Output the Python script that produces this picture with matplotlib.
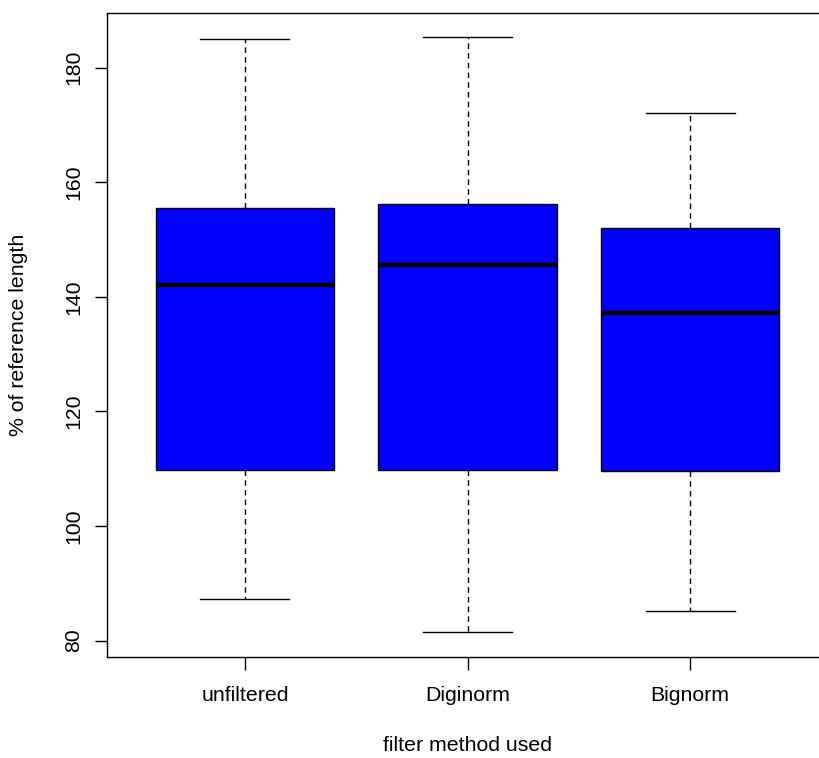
import matplotlib
matplotlib.use("Agg")
import matplotlib.pyplot as plt

# box stats
methods = ["unfiltered", "Diginorm", "Bignorm"]
whisker_low = [87.3, 81.5, 85.2]
q1 = [109.8, 109.8, 109.6]
median = [142.0, 145.6, 137.2]
q3 = [155.6, 156.2, 152.0]
whisker_high = [185.0, 185.4, 172.1]

plt.rcParams['font.family'] = ['Liberation Sans', 'DejaVu Sans']

fig = plt.figure(figsize=(8.19, 7.58), dpi=100)
ax = fig.add_axes([107/819, 101/758, 721/819, 644/758])  # right edge falls off the image like the reference

stats = []
for i in range(len(methods)):
    stats.append({'med': median[i], 'q1': q1[i], 'q3': q3[i],
                  'whislo': whisker_low[i], 'whishi': whisker_high[i],
                  'fliers': [], 'label': methods[i]})

ax.bxp(stats, positions=[1, 2, 3], widths=0.8, patch_artist=True, showfliers=False,
       boxprops=dict(facecolor='#0000ff', edgecolor='black', linewidth=1),
       medianprops=dict(color='black', linewidth=3.2, solid_capstyle='butt'),
       whiskerprops=dict(color='black', linewidth=1, linestyle=(0, (4, 3))),
       capprops=dict(color='black', linewidth=1), capwidths=0.4)

ax.set_xlim(0.38, 3.62)
ax.set_ylim(77.15, 189.55)
ax.set_yticks([80, 100, 120, 140, 160, 180])
ax.set_xticks([1, 2, 3])
ax.set_xticklabels(methods)
for lab in ax.get_yticklabels():
    lab.set_rotation(90)
    lab.set_va('center')
ax.tick_params(axis='both', labelsize=15.3, length=9, width=1, pad=12)
ax.tick_params(axis='y', pad=8)
for s in ax.spines.values():
    s.set_linewidth(1)

ax.set_xlabel("filter method used", fontsize=15.3, labelpad=22)
ax.set_ylabel("% of reference length", fontsize=15.3, labelpad=26)

fig.savefig("out.png", dpi=100)
